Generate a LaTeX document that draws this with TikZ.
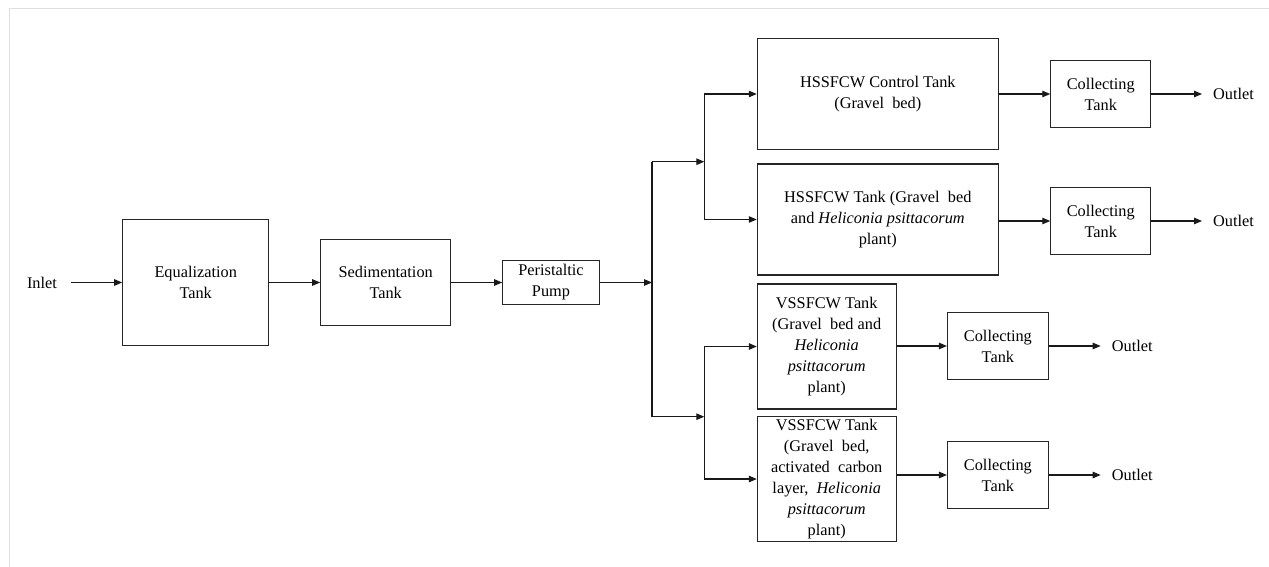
\documentclass[tikz,border=0pt]{standalone}
\usepackage{fontspec}
\setmainfont{Liberation Serif}
\usetikzlibrary{arrows.meta}
\begin{document}
\begin{tikzpicture}[x=1pt,y=-1pt,
  box/.style={draw=black!85,line width=1.1pt,align=center,inner sep=2pt,
    font=\fontsize{16.3}{21}\selectfont},
  lbl/.style={inner sep=0pt,font=\fontsize{16.3}{21}\selectfont},
  arr/.style={line width=1.1pt,draw=black!90,-{Triangle[length=8pt,width=6.5pt]}},
  ln/.style={line width=1.1pt,draw=black!90}]
\useasboundingbox (0,0) rectangle (1269,567);
% faint page frame
\draw[gray!25,line width=1pt] (9,567) -- (9,9) -- (1269,9);
% nodes
\node[lbl] (inlet) at (42,282.5) {Inlet};
\node[box,minimum width=146pt,minimum height=126.4pt] (eq) at (195.7,282.5) {Equalization\\Tank};
\node[box,minimum width=130pt,minimum height=86pt] (sed) at (385.7,282.5) {Sedimentation\\Tank};
\node[box,minimum width=96.6pt,minimum height=43.6pt] (pump) at (551,282.5) {Peristaltic\\Pump};
\node[box,minimum width=241pt,minimum height=111pt] (b1) at (877.8,94) {HSSFCW Control Tank\\(Gravel~ bed)};
\node[box,minimum width=241pt,minimum height=111pt] (b2) at (877.8,219.5) {HSSFCW Tank (Gravel~ bed\\and \textit{Heliconia psittacorum}\\plant)};
\node[box,minimum width=138.7pt,minimum height=125pt] (b3) at (826.7,346.5) {VSSFCW Tank\\(Gravel~ bed and\\\textit{Heliconia}\\\textit{psittacorum}\\plant)};
\node[box,minimum width=138.7pt,minimum height=125.4pt] (b4) at (826.7,479) {VSSFCW Tank\\(Gravel~ bed,\\activated~ carbon\\layer,~ \textit{Heliconia}\\\textit{psittacorum}\\plant)};
\node[box,minimum width=100pt,minimum height=67.4pt] (c1) at (1100.8,94) {Collecting\\Tank};
\node[box,minimum width=100pt,minimum height=66.3pt] (c2) at (1100.8,221) {Collecting\\Tank};
\node[box,minimum width=100.8pt,minimum height=67.3pt] (c3) at (997.9,346) {Collecting\\Tank};
\node[box,minimum width=100.8pt,minimum height=67.7pt] (c4) at (997.9,475) {Collecting\\Tank};
\node[lbl,anchor=west] (o1) at (1213,94) {Outlet};
\node[lbl,anchor=west] (o2) at (1213,221) {Outlet};
\node[lbl,anchor=west] (o3) at (1111.7,346) {Outlet};
\node[lbl,anchor=west] (o4) at (1111.7,475) {Outlet};
% junctions
\coordinate (m) at (652,282.5);
\coordinate (mt) at (652,161.7);
\coordinate (mb) at (652,416.7);
\coordinate (ut) at (704.3,161.7);
\coordinate (lb) at (704.3,416.7);
% connectors
\draw[arr,shorten <=14pt] (inlet.east) -- (eq.west);
\draw[arr] (eq.east) -- (sed.west);
\draw[arr] (sed.east) -- (pump.west);
\draw[arr] (pump.east) -- (m);
\draw[ln] (mt) -- (mb);
\draw[arr] (mt) -- (ut);
\draw[arr] (mb) -- (lb);
\draw[arr] (ut) |- (b1.west);
\draw[arr] (ut) |- (b2.west);
\draw[arr] (lb) |- (b3.west);
\draw[arr] (lb) |- (b4.west);
\draw[arr] (b1.east |- c1.west) -- (c1.west);
\draw[arr] (b2.east |- c2.west) -- (c2.west);
\draw[arr] (b3.east |- c3.west) -- (c3.west);
\draw[arr] (b4.east |- c4.west) -- (c4.west);
\draw[arr,shorten >=11pt] (c1.east) -- (o1.west);
\draw[arr,shorten >=11pt] (c2.east) -- (o2.west);
\draw[arr,shorten >=11pt] (c3.east) -- (o3.west);
\draw[arr,shorten >=11pt] (c4.east) -- (o4.west);
\end{tikzpicture}
\end{document}
